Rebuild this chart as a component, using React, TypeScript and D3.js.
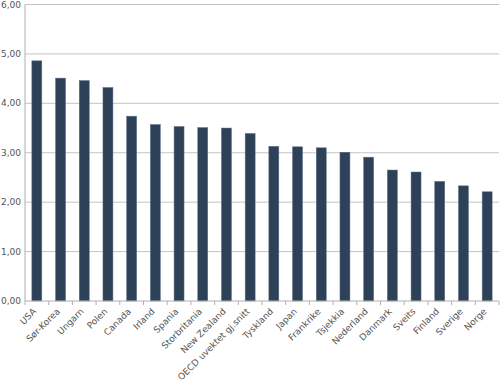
import React from "react";
import * as d3 from "d3";

const categories = ["USA","Sør-Korea","Ungarn","Polen","Canada","Irland","Spania","Storbritania","New Zealand","OECD uvektet gj.snitt","Tyskland","Japan","Frankrike","Tsjekkia","Nederland","Danmark","Sveits","Finland","Sverige","Norge"];
const values = [4.86,4.51,4.46,4.32,3.74,3.57,3.53,3.51,3.50,3.39,3.13,3.12,3.10,3.01,2.91,2.65,2.61,2.42,2.33,2.21];
const yTicks = [0,1,2,3,4,5,6];

export default function App() {
  const W = 500, H = 382;
  const left = 25, right = 499, top = 4.5, bottom = 301;
  const x = d3.scaleBand<string>().domain(categories).range([left, right]).paddingInner(0.58).paddingOuter(0.29);
  const y = d3.scaleLinear().domain([0, 6]).range([bottom, top]);
  const step = x.step();
  const fmt = (v: number) => v.toFixed(2).replace(".", ",");
  const font = "'DejaVu Sans', Verdana, sans-serif";
  return (
    <svg width={W} height={H} style={{ position: "absolute", left: 0, top: 0, background: "#fff" }}>
      {yTicks.map(t => (
        <g key={t}>
          {t > 0 && <line x1={left} x2={right} y1={y(t)} y2={y(t)} stroke="#c4c4c4" strokeWidth={1} />}
          <text x={21} y={y(t)} dy="0.35em" textAnchor="end" fontSize={9} fill="#555" fontFamily={font}>{fmt(t)}</text>
        </g>
      ))}
      <line x1={left} x2={left} y1={top} y2={bottom} stroke="#b0b0b0" />
      {categories.map((c, i) => (
        <rect key={c} x={x(c)!} y={y(values[i])} width={x.bandwidth()} height={bottom - y(values[i])} fill="#2d4158" stroke="#5a6d82" strokeWidth={0.5} />
      ))}
      <line x1={left} x2={right} y1={bottom} y2={bottom} stroke="#b0b0b0" />
      {d3.range(categories.length + 1).map(i => (
        <line key={i} x1={left + i * step} x2={left + i * step} y1={bottom} y2={bottom + 4} stroke="#b0b0b0" />
      ))}
      {categories.map(c => {
        const cx = x(c)! + x.bandwidth() / 2 + 0;
        const cy = bottom + 11;
        return (
          <text key={c} transform={`translate(${cx},${cy}) rotate(-45)`} textAnchor="end" fontSize={9} fill="#555" fontFamily={font}>{c}</text>
        );
      })}
    </svg>
  );
}
